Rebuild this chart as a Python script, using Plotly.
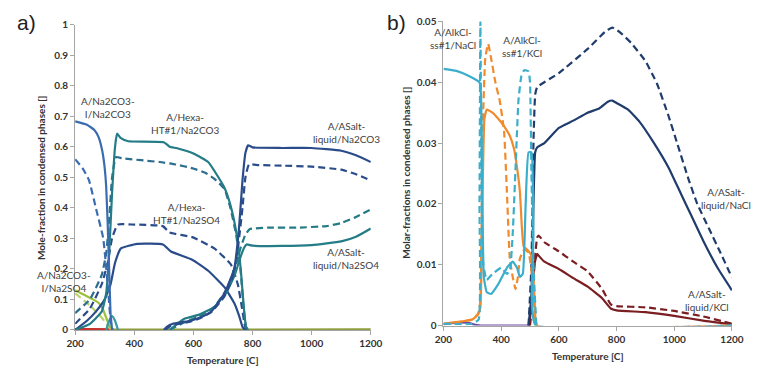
import plotly.graph_objects as go

# ---------------- Panel a) : Na2CO3 / Na2SO4 system ----------------
# Temperature [C] and mole fraction pairs for each phase/species curve
a_co3I_co3_T = [200, 240, 265, 280, 292, 300, 305, 310, 315, 320, 325]
a_co3I_co3_V = [0.683, 0.672, 0.655, 0.63, 0.585, 0.53, 0.47, 0.35, 0.2, 0.05, 0.0]
a_co3I_co3d_T = [200, 225, 247, 270, 295, 310, 320, 326]
a_co3I_co3d_V = [0.559, 0.53, 0.49, 0.40, 0.30, 0.15, 0.03, 0.0]

a_hexa_co3_T = [200, 250, 290, 305, 315, 325, 335, 342, 355, 380, 500, 520, 545, 600, 650, 705, 725, 745, 760, 770, 778, 785]
a_hexa_co3_V = [0.0, 0.02, 0.06, 0.12, 0.25, 0.45, 0.60, 0.643, 0.628, 0.618, 0.615, 0.60, 0.595, 0.578, 0.55, 0.466, 0.41, 0.32, 0.20, 0.08, 0.01, 0.0]
a_hexa_co3d_T = [200, 250, 290, 305, 315, 325, 338, 360, 486, 540, 595, 640, 672, 705, 725, 745, 760, 770, 778, 785]
a_hexa_co3d_V = [0.055, 0.10, 0.18, 0.25, 0.36, 0.50, 0.566, 0.562, 0.55, 0.542, 0.53, 0.515, 0.494, 0.462, 0.40, 0.31, 0.19, 0.07, 0.01, 0.0]

a_hexa_so4_T = [200, 240, 270, 300, 320, 335, 355, 410, 497, 524, 596, 651, 705, 738, 755, 766, 775]
a_hexa_so4_V = [0.0, 0.03, 0.06, 0.10, 0.15, 0.22, 0.267, 0.282, 0.28, 0.257, 0.23, 0.193, 0.14, 0.088, 0.045, 0.01, 0.0]
a_hexa_so4d_T = [200, 250, 290, 310, 325, 344, 400, 497, 519, 596, 672, 727, 750, 763, 775, 782]
a_hexa_so4d_V = [0.02, 0.07, 0.15, 0.22, 0.30, 0.345, 0.345, 0.34, 0.319, 0.304, 0.266, 0.214, 0.15, 0.08, 0.01, 0.0]

a_asalt_co3_T = [500, 510, 530, 580, 620, 660, 705, 738, 754, 766, 776, 785, 800, 900, 1000, 1100, 1150, 1200]
a_asalt_co3_V = [0.0, 0.01, 0.02, 0.028, 0.04, 0.06, 0.12, 0.20, 0.33, 0.49, 0.58, 0.605, 0.598, 0.596, 0.596, 0.587, 0.572, 0.55]
a_asalt_co3d_T = [505, 525, 580, 620, 660, 705, 735, 752, 766, 776, 788, 820, 900, 1000, 1100, 1150, 1200]
a_asalt_co3d_V = [0.0, 0.015, 0.025, 0.037, 0.058, 0.11, 0.18, 0.28, 0.40, 0.50, 0.542, 0.54, 0.538, 0.535, 0.525, 0.51, 0.49]

a_asalt_so4_T = [520, 568, 620, 670, 710, 740, 758, 772, 780, 800, 900, 1000, 1100, 1150, 1200]
a_asalt_so4_V = [0.0, 0.036, 0.05, 0.075, 0.12, 0.18, 0.235, 0.27, 0.28, 0.276, 0.275, 0.278, 0.29, 0.305, 0.332]
a_asalt_so4d_T = [520, 570, 620, 670, 710, 740, 760, 775, 790, 850, 950, 1050, 1100, 1150, 1200]
a_asalt_so4d_V = [0.0, 0.025, 0.045, 0.075, 0.13, 0.20, 0.27, 0.31, 0.33, 0.335, 0.335, 0.34, 0.35, 0.37, 0.395]

a_co3I_so4_T = [200, 230, 260, 280, 295, 305, 315, 325, 330]
a_co3I_so4_V = [0.13, 0.115, 0.10, 0.088, 0.065, 0.04, 0.015, 0.003, 0.0]
a_co3I_so4d_T = [200, 250, 290, 310, 322]
a_co3I_so4d_V = [0.12, 0.08, 0.04, 0.015, 0.0]

a_bump_T = [305, 315, 325, 335, 345]
a_bump_V = [0.0, 0.03, 0.045, 0.03, 0.0]
a_red_T = [200, 260, 330]
a_red_V = [0.003, 0.003, 0.002]
a_base_T = [200, 700, 1200]
a_base_V = [0.001, 0.001, 0.002]

# ---------------- Panel b) : NaCl / KCl ----------------
b_alk_nacl_T = [200, 250, 290, 325, 330, 335, 340, 350, 365, 390, 420, 440, 455, 465, 475, 485, 495, 505, 512, 520, 1200]
b_alk_nacl_V = [0.0422, 0.0418, 0.041, 0.040, 0.038, 0.02, 0.008, 0.0055, 0.0052, 0.0068, 0.0095, 0.0105, 0.0095, 0.008, 0.0085, 0.02, 0.0285, 0.0285, 0.015, 0.0, 0.0]
b_alk_nacld_T = [200, 300, 322, 325, 328, 331, 338, 350, 370, 400, 420, 430, 440, 450, 460, 470, 480, 495, 500, 505, 512, 520, 525, 1200]
b_alk_nacld_V = [0.0003, 0.0003, 0.001, 0.02, 0.05, 0.03, 0.01, 0.0075, 0.0085, 0.0095, 0.0085, 0.009, 0.015, 0.026, 0.037, 0.041, 0.042, 0.0418, 0.04, 0.025, 0.01, 0.002, 0.0, 0.0]

b_alk_kcl_T = [200, 250, 300, 320, 328, 335, 342, 350, 370, 390, 410, 430, 445, 455, 465, 472, 478, 490, 505, 512, 518, 522, 1200]
b_alk_kcl_V = [0.0003, 0.0006, 0.001, 0.0018, 0.003, 0.02, 0.034, 0.0355, 0.035, 0.034, 0.0328, 0.0312, 0.029, 0.026, 0.022, 0.016, 0.013, 0.0125, 0.0115, 0.008, 0.002, 0.0, 0.0]
b_alk_kcld_T = [200, 300, 320, 328, 335, 345, 355, 365, 380, 395, 410, 420, 430, 440, 450, 458, 465, 480, 495, 505, 515, 525, 1200]
b_alk_kcld_V = [0.0003, 0.001, 0.002, 0.004, 0.03, 0.044, 0.0463, 0.044, 0.040, 0.037, 0.032, 0.022, 0.011, 0.008, 0.006, 0.008, 0.011, 0.0125, 0.012, 0.009, 0.003, 0.0, 0.0]

b_asalt_nacl_T = [495, 505, 512, 518, 525, 550, 600, 650, 700, 740, 770, 785, 800, 840, 880, 930, 980, 1020, 1060, 1100, 1150, 1200]
b_asalt_nacl_V = [0.0, 0.005, 0.02, 0.0285, 0.0293, 0.030, 0.0325, 0.0337, 0.035, 0.0357, 0.0368, 0.037, 0.0366, 0.0355, 0.0335, 0.030, 0.026, 0.022, 0.018, 0.014, 0.0095, 0.0058]
b_asalt_nacld_T = [495, 505, 512, 518, 525, 600, 700, 760, 785, 810, 850, 900, 940, 980, 1010, 1050, 1080, 1120, 1160, 1200]
b_asalt_nacld_V = [0.0, 0.01, 0.03, 0.038, 0.0392, 0.0415, 0.0455, 0.0483, 0.049, 0.0483, 0.0465, 0.0435, 0.0398, 0.0345, 0.030, 0.024, 0.020, 0.016, 0.012, 0.0079]

b_asalt_kcl_T = [498, 505, 515, 525, 530, 550, 600, 650, 700, 750, 780, 800, 900, 1000, 1100, 1200]
b_asalt_kcl_V = [0.0, 0.004, 0.010, 0.0118, 0.0115, 0.0105, 0.0093, 0.0078, 0.0064, 0.0045, 0.0028, 0.0025, 0.0022, 0.0016, 0.0008, 0.0002]
b_asalt_kcld_T = [500, 507, 517, 525, 530, 550, 600, 650, 700, 750, 780, 800, 900, 1000, 1100, 1200]
b_asalt_kcld_V = [0.0, 0.003, 0.011, 0.0145, 0.0148, 0.0137, 0.0122, 0.0105, 0.0089, 0.006, 0.0035, 0.0032, 0.003, 0.0024, 0.0015, 0.0003]

b_purple_T = [200, 230, 260, 290, 310, 330, 500]
b_purple_V = [0.0002, 0.0004, 0.0005, 0.0004, 0.0001, 0.0, 0.0]

W, H = 766, 375

BLUE = "#3c6cb0"
LBLUE = "#4a8ccc"
TEAL = "#237c86"
TEAL_D = "#2d6e8e"
NAVY = "#2a4c8a"
GREEN = "#9cc03c"
LGREEN = "#b8d36c"
RED = "#c8322e"
OLIVE = "#8e9c3c"

CYAN = "#3aaecb"
ORANGE = "#f08a2c"
NAVY2 = "#1f3c6c"
MAROON = "#7a1e22"
PURPLE = "#7048a0"

DASH = "7px,4px"

fig = go.Figure()


def add(x, y, color, dash="solid", ax="a", width=2.2):
    fig.add_trace(go.Scatter(
        x=x, y=y, mode="lines",
        line=dict(color=color, width=width, dash=dash, shape="spline", smoothing=0.4),
        xaxis="x" if ax == "a" else "x2",
        yaxis="y" if ax == "a" else "y2",
        showlegend=False, hoverinfo="skip"))


# panel a
add(a_base_T, a_base_V, OLIVE)
add(a_red_T, a_red_V, RED)
add(a_co3I_so4d_T, a_co3I_so4d_V, LGREEN, DASH)
add(a_co3I_so4_T, a_co3I_so4_V, GREEN)
add(a_bump_T, a_bump_V, "#3a9aa0")
add(a_hexa_so4d_T, a_hexa_so4d_V, NAVY, DASH)
add(a_hexa_so4_T, a_hexa_so4_V, NAVY)
add(a_hexa_co3d_T, a_hexa_co3d_V, TEAL_D, DASH)
add(a_hexa_co3_T, a_hexa_co3_V, TEAL)
add(a_asalt_so4d_T, a_asalt_so4d_V, TEAL, DASH)
add(a_asalt_so4_T, a_asalt_so4_V, TEAL)
add(a_asalt_co3d_T, a_asalt_co3d_V, NAVY, DASH)
add(a_asalt_co3_T, a_asalt_co3_V, NAVY)
add(a_co3I_co3d_T, a_co3I_co3d_V, BLUE, DASH)
add(a_co3I_co3_T, a_co3I_co3_V, BLUE)

# panel b
add(b_purple_T, b_purple_V, PURPLE, ax="b")
add(b_asalt_kcl_T, b_asalt_kcl_V, MAROON, ax="b")
add(b_asalt_kcld_T, b_asalt_kcld_V, MAROON, DASH, ax="b")
add(b_asalt_nacl_T, b_asalt_nacl_V, NAVY2, ax="b")
add(b_asalt_nacld_T, b_asalt_nacld_V, NAVY2, DASH, ax="b")
add(b_alk_kcl_T, b_alk_kcl_V, ORANGE, ax="b")
add(b_alk_kcld_T, b_alk_kcld_V, ORANGE, DASH, ax="b")
add(b_alk_nacl_T, b_alk_nacl_V, CYAN, ax="b")
add(b_alk_nacld_T, b_alk_nacld_V, CYAN, DASH, ax="b")

TICKFONT = dict(family="Lato, Open Sans, sans-serif", size=10, color="#333333", weight="bold")
AXCOL = "#a6a6a6"

axis_common = dict(showline=True, linecolor=AXCOL, linewidth=1, ticks="outside",
                   ticklen=4, tickcolor=AXCOL, showgrid=False, zeroline=False,
                   tickfont=TICKFONT)

x_ticks = [200, 400, 600, 800, 1000, 1200]

fig.update_layout(
    width=W, height=H,
    margin=dict(l=0, r=0, t=0, b=0),
    paper_bgcolor="white", plot_bgcolor="white",
    xaxis=dict(domain=[68 / W, 372 / W], range=[200, 1200], tickvals=x_ticks,
               anchor="y", **axis_common),
    yaxis=dict(domain=[(H - 334.5) / H, (H - 18.3) / H], range=[0, 1],
               tickvals=[i / 10 for i in range(11)],
               ticktext=["0", "0.1", "0.2", "0.3", "0.4", "0.5", "0.6", "0.7", "0.8", "0.9", "1"],
               anchor="x", **axis_common),
    xaxis2=dict(domain=[446.7 / W, 743.3 / W], range=[200, 1200], tickvals=x_ticks,
                anchor="y2", **axis_common),
    yaxis2=dict(domain=[(H - 330) / H, (H - 15) / H], range=[0, 0.05],
                tickvals=[0, 0.01, 0.02, 0.03, 0.04, 0.05],
                ticktext=["0", "0.01", "0.02", "0.03", "0.04", "0.05"],
                anchor="x2", **axis_common),
)

LBL = dict(family="Lato, Open Sans, sans-serif", size=10, color="#404040")
TITLE = dict(family="Lato, Open Sans, sans-serif", size=10, color="#333333", weight="bold")


def note(px, py, text, font=LBL, angle=0):
    fig.add_annotation(x=px / W, y=1 - py / H, xref="paper", yref="paper",
                       text=text, showarrow=False, font=font, textangle=angle,
                       xanchor="center", yanchor="middle", align="center")


# curve labels, panel a
note(102, 104, "A/Na2CO3-<br>I/Na2CO3")
note(181, 121, "A/Hexa-<br>HT#1/Na2CO3")
note(347, 130, "A/ASalt-<br>liquid/Na2CO3")
note(182, 214, "A/Hexa-<br>HT#1/Na2SO4")
note(347, 261, "A/ASalt-<br>liquid/Na2SO4")
note(57, 284, "A/Na2CO3-<br>I/Na2SO4")

# curve labels, panel b
note(457, 33, "A/AlkCl-<br>ss#1/NaCl")
note(527, 41, "A/AlkCl-<br>ss#1/KCl")
note(737, 198, "A/ASalt-<br>liquid/NaCl")
note(718, 304, "A/ASalt-<br>liquid/KCl")

# axis titles
note(220, 366, "Temperature [C]", TITLE)
note(595, 362, "Temperature [C]", TITLE)
note(33, 177, "Mole-fraction in condensed phases []", TITLE, -90)
note(408, 172, "Molar-fractions in condensed phases []", TITLE, -90)

# panel letters
PANEL = dict(family="Liberation Sans, Arial, sans-serif", size=21, color="#222222")
note(18, 16, "a)", PANEL)
note(398, 16, "b)", PANEL)

fig.write_html("out.html")
